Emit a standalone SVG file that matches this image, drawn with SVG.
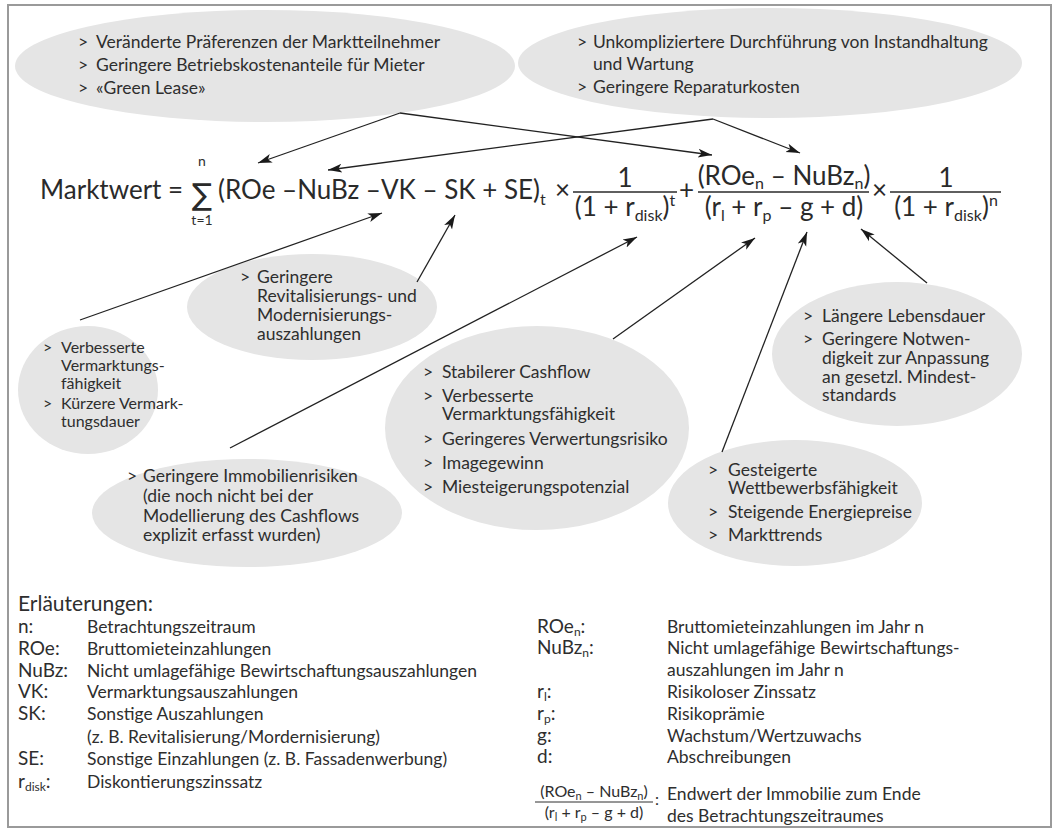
<svg xmlns="http://www.w3.org/2000/svg" width="1060" height="832" viewBox="0 0 1060 832">
  <style>
    .t { font-family: Lato, "Open Sans", "Liberation Sans", sans-serif; fill: #2e2e2e; }
    .s16 { font-size: 16px; }
    .s17 { font-size: 17.5px; }
    .eq { font-family: Lato, "Open Sans", "Liberation Sans", sans-serif; fill: #2a2a2a; font-size: 26px; }
    .bubble { fill: #e5e5e5; }
    .conn { stroke: #222; stroke-width: 1.3; fill: none; marker-end: url(#arrow); }
    .bar { stroke: #2a2a2a; stroke-width: 1.4; }
    .key { font-size: 19px; }
    .desc { font-size: 17.5px; }
  </style>
  <defs>
    <marker id="arrow" markerUnits="userSpaceOnUse" markerWidth="15" markerHeight="11" refX="14" refY="5.5" orient="auto">
      <path d="M0,1 L14,5.5 L0,10 L3.5,5.5 Z" fill="#1a1a1a"/>
    </marker>
  </defs>

  <rect x="0" y="0" width="1060" height="832" fill="#ffffff"/>
  <rect x="8" y="5" width="1043" height="822" fill="none" stroke="#9a9a9a" stroke-width="2"/>

  <!-- upper bubbles -->
  <g id="node-praeferenzen">
    <ellipse class="bubble" cx="265" cy="66" rx="250" ry="56"/>
    <text class="t s17" x="78" y="48">&gt;<tspan x="96">Veränderte Präferenzen der Marktteilnehmer</tspan></text>
    <text class="t s17" x="78" y="71">&gt;<tspan x="96">Geringere Betriebskostenanteile für Mieter</tspan></text>
    <text class="t s17" x="78" y="94">&gt;<tspan x="96">«Green Lease»</tspan></text>
  </g>
  <g id="node-instandhaltung">
    <ellipse class="bubble" cx="770" cy="63" rx="252" ry="55"/>
    <text class="t s17" x="577" y="48">&gt;<tspan x="593">Unkompliziertere Durchführung von Instandhaltung</tspan></text>
    <text class="t s17" x="593" y="70">und Wartung</text>
    <text class="t s17" x="577" y="93">&gt;<tspan x="593">Geringere Reparaturkosten</tspan></text>
  </g>

  <!-- lower bubbles -->
  <g id="node-vermarktung">
    <ellipse class="bubble" cx="88" cy="390" rx="70" ry="64"/>
    <text class="t s16" x="43" y="353">&gt;<tspan x="61">Verbesserte</tspan></text>
    <text class="t s16" x="61" y="371">Vermarktungs-</text>
    <text class="t s16" x="61" y="389">fähigkeit</text>
    <text class="t s16" x="43" y="409">&gt;<tspan x="61">Kürzere Vermark-</tspan></text>
    <text class="t s16" x="61" y="427">tungsdauer</text>
  </g>
  <g id="node-revitalisierung">
    <ellipse class="bubble" cx="312" cy="307" rx="125" ry="53"/>
    <text class="t s17" x="240" y="283">&gt;<tspan x="257">Geringere</tspan></text>
    <text class="t s17" x="257" y="302">Revitalisierungs- und</text>
    <text class="t s17" x="257" y="321">Modernisierungs-</text>
    <text class="t s17" x="257" y="340">auszahlungen</text>
  </g>
  <g id="node-cashflow">
    <ellipse class="bubble" cx="537" cy="428" rx="152" ry="102"/>
    <text class="t s17" x="423" y="378">&gt;<tspan x="442">Stabilerer Cashflow</tspan></text>
    <text class="t s17" x="423" y="402">&gt;<tspan x="442">Verbesserte</tspan></text>
    <text class="t s17" x="442" y="420">Vermarktungsfähigkeit</text>
    <text class="t s17" x="423" y="445">&gt;<tspan x="442">Geringeres Verwertungsrisiko</tspan></text>
    <text class="t s17" x="423" y="469">&gt;<tspan x="442">Imagegewinn</tspan></text>
    <text class="t s17" x="423" y="493">&gt;<tspan x="442">Miesteigerungspotenzial</tspan></text>
  </g>
  <g id="node-immobilienrisiken">
    <ellipse class="bubble" cx="247" cy="513" rx="155" ry="54"/>
    <text class="t s17" x="127" y="482">&gt;<tspan x="143">Geringere Immobilienrisiken</tspan></text>
    <text class="t s17" x="143" y="502">(die noch nicht bei der</text>
    <text class="t s17" x="143" y="522">Modellierung des Cashflows</text>
    <text class="t s17" x="143" y="541">explizit erfasst wurden)</text>
  </g>
  <g id="node-lebensdauer">
    <ellipse class="bubble" cx="897" cy="354" rx="125" ry="72"/>
    <text class="t s17" x="803" y="322">&gt;<tspan x="822">Längere Lebensdauer</tspan></text>
    <text class="t s17" x="803" y="345">&gt;<tspan x="822">Geringere Notwen-</tspan></text>
    <text class="t s17" x="822" y="364">digkeit zur Anpassung</text>
    <text class="t s17" x="822" y="383">an gesetzl. Mindest-</text>
    <text class="t s17" x="822" y="401">standards</text>
  </g>
  <g id="node-wettbewerb">
    <ellipse class="bubble" cx="795" cy="503" rx="127" ry="63"/>
    <text class="t s17" x="708" y="476">&gt;<tspan x="728">Gesteigerte</tspan></text>
    <text class="t s17" x="728" y="494">Wettbewerbsfähigkeit</text>
    <text class="t s17" x="708" y="518">&gt;<tspan x="728">Steigende Energiepreise</tspan></text>
    <text class="t s17" x="708" y="541">&gt;<tspan x="728">Markttrends</tspan></text>
  </g>

  <!-- valuation formula -->
  <g id="node-formel">
    <text class="eq" x="40" y="199">Marktwert =</text>
    <text x="202" y="205" text-anchor="middle" style="font-family:'DejaVu Sans',sans-serif;font-size:30px;fill:#2a2a2a">∑</text>
    <text class="t" x="202" y="166" text-anchor="middle" style="font-size:14px">n</text>
    <text class="t" x="202" y="225" text-anchor="middle" style="font-size:14px">t=1</text>
    <text class="eq" x="218" y="199">(ROe –NuBz –VK – SK + SE)<tspan dy="6" style="font-size:16px">t</tspan></text>
    <text class="eq" x="555" y="199">×</text>
    <text class="eq" x="625" y="187" text-anchor="middle">1</text>
    <line class="bar" x1="573" y1="192" x2="677" y2="192"/>
    <text class="eq" x="625" y="216" text-anchor="middle">(1 + r<tspan dy="5" style="font-size:16px">disk</tspan><tspan dy="-5">)</tspan><tspan dy="-10" style="font-size:16px">t</tspan></text>
    <text class="eq" x="679" y="199">+</text>
    <text class="eq" x="784" y="185" text-anchor="middle">(ROe<tspan dy="4" style="font-size:16px">n</tspan><tspan dy="-4"> – NuBz</tspan><tspan dy="4" style="font-size:16px">n</tspan><tspan dy="-4">)</tspan></text>
    <line class="bar" x1="698" y1="192" x2="869" y2="192"/>
    <text class="eq" x="784" y="216" text-anchor="middle">(r<tspan dy="5" style="font-size:16px">l</tspan><tspan dy="-5"> + r</tspan><tspan dy="5" style="font-size:16px">p</tspan><tspan dy="-5"> – g + d)</tspan></text>
    <text class="eq" x="872" y="199">×</text>
    <text class="eq" x="946" y="187" text-anchor="middle">1</text>
    <line class="bar" x1="890" y1="192" x2="1001" y2="192"/>
    <text class="eq" x="946" y="216" text-anchor="middle">(1 + r<tspan dy="5" style="font-size:16px">disk</tspan><tspan dy="-5">)</tspan><tspan dy="-10" style="font-size:16px">n</tspan></text>
  </g>

  <!-- connectors -->
  <g id="connectors">
    <line class="conn" x1="400" y1="113" x2="258" y2="163"/>
    <line class="conn" x1="400" y1="113" x2="712" y2="155"/>
    <line class="conn" x1="713" y1="119" x2="328" y2="170"/>
    <line class="conn" x1="713" y1="119" x2="800" y2="153"/>
    <line class="conn" x1="80" y1="320" x2="382" y2="213"/>
    <line class="conn" x1="417" y1="282" x2="455" y2="215"/>
    <line class="conn" x1="230" y1="448" x2="637" y2="237"/>
    <line class="conn" x1="613" y1="339" x2="755" y2="238"/>
    <line class="conn" x1="722" y1="452" x2="807" y2="232"/>
    <line class="conn" x1="927" y1="283" x2="861" y2="229"/>
  </g>

  <!-- legend -->
  <g id="legend">
    <text class="t" x="18" y="611" style="font-size:21px">Erläuterungen:</text>
    <text class="t key" x="18" y="633">n:</text>
    <text class="t desc" x="87" y="633">Betrachtungszeitraum</text>
    <text class="t key" x="18" y="655">ROe:</text>
    <text class="t desc" x="87" y="655">Bruttomieteinzahlungen</text>
    <text class="t key" x="18" y="677">NuBz:</text>
    <text class="t desc" x="87" y="677">Nicht umlagefähige Bewirtschaftungsauszahlungen</text>
    <text class="t key" x="18" y="698">VK:</text>
    <text class="t desc" x="87" y="698">Vermarktungsauszahlungen</text>
    <text class="t key" x="18" y="720">SK:</text>
    <text class="t desc" x="87" y="720">Sonstige Auszahlungen</text>
    <text class="t desc" x="87" y="743">(z. B. Revitalisierung/Mordernisierung)</text>
    <text class="t key" x="18" y="765">SE:</text>
    <text class="t desc" x="87" y="765">Sonstige Einzahlungen (z. B. Fassadenwerbung)</text>
    <text class="t key" x="18" y="788">r<tspan dy="3" style="font-size:12px">disk</tspan><tspan dy="-3">:</tspan></text>
    <text class="t desc" x="87" y="788">Diskontierungszinssatz</text>

    <text class="t key" x="537" y="633">ROe<tspan dy="3" style="font-size:12px">n</tspan><tspan dy="-3">:</tspan></text>
    <text class="t desc" x="667" y="633">Bruttomieteinzahlungen im Jahr n</text>
    <text class="t key" x="537" y="654">NuBz<tspan dy="3" style="font-size:12px">n</tspan><tspan dy="-3">:</tspan></text>
    <text class="t desc" x="667" y="654">Nicht umlagefähige Bewirtschaftungs-</text>
    <text class="t desc" x="667" y="676">auszahlungen im Jahr n</text>
    <text class="t key" x="537" y="698">r<tspan dy="3" style="font-size:12px">l</tspan><tspan dy="-3">:</tspan></text>
    <text class="t desc" x="667" y="698">Risikoloser Zinssatz</text>
    <text class="t key" x="537" y="720">r<tspan dy="3" style="font-size:12px">p</tspan><tspan dy="-3">:</tspan></text>
    <text class="t desc" x="667" y="720">Risikoprämie</text>
    <text class="t key" x="537" y="742">g:</text>
    <text class="t desc" x="667" y="742">Wachstum/Wertzuwachs</text>
    <text class="t key" x="537" y="763">d:</text>
    <text class="t desc" x="667" y="763">Abschreibungen</text>
    <text class="t" x="594" y="797" text-anchor="middle" style="font-size:16px">(ROe<tspan dy="3" style="font-size:11px">n</tspan><tspan dy="-3"> – NuBz</tspan><tspan dy="3" style="font-size:11px">n</tspan><tspan dy="-3">)</tspan></text>
    <line x1="535" y1="802" x2="653" y2="802" stroke="#2e2e2e" stroke-width="1"/>
    <text class="t" x="594" y="818" text-anchor="middle" style="font-size:16px">(r<tspan dy="3" style="font-size:11px">l</tspan><tspan dy="-3"> + r</tspan><tspan dy="3" style="font-size:11px">p</tspan><tspan dy="-3"> – g + d)</tspan></text>
    <text class="t" x="655" y="805" style="font-size:16px">:</text>
    <text class="t desc" x="667" y="800">Endwert der Immobilie zum Ende</text>
    <text class="t desc" x="667" y="822">des Betrachtungszeitraumes</text>
  </g>
</svg>
